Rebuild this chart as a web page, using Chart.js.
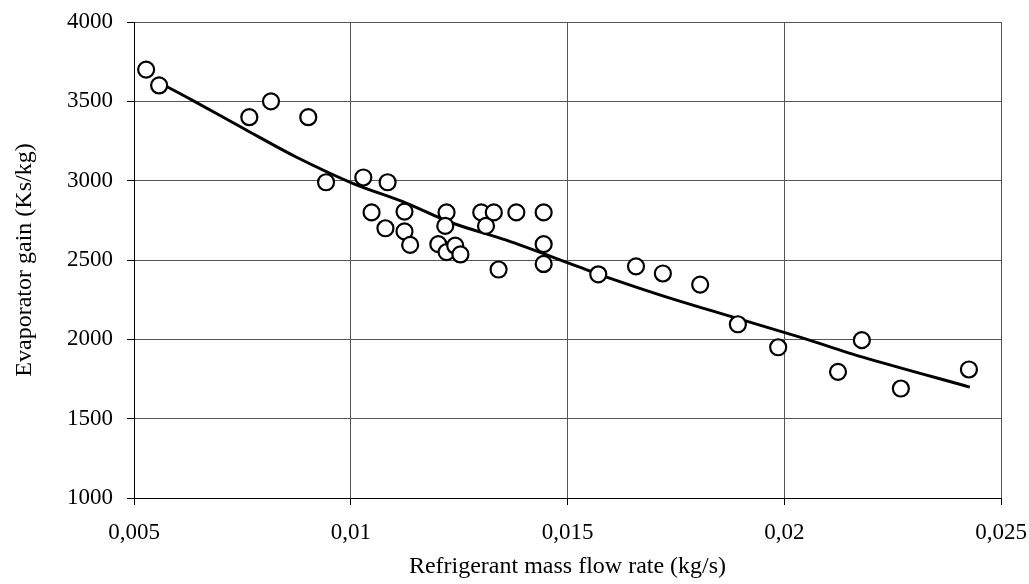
<!DOCTYPE html>
<html>
<head>
<meta charset="utf-8">
<script src="https://cdn.jsdelivr.net/npm/chart.js@4/dist/chart.umd.min.js"></script>
<style>
  html, body { margin: 0; padding: 0; background: #fff; }
  #wrap { width: 1029px; height: 584px; position: relative; }
</style>
</head>
<body>
<div id="wrap"><canvas id="c" width="1029" height="584"></canvas></div>
<script>
// Measured flow rates (kg/s) and evaporator gains (Ks/kg)
const flowRate = [
  0.00528, 0.00558, 0.00766, 0.00816, 0.00902, 0.00943, 0.01029, 0.01048,
  0.01085, 0.01080, 0.01124, 0.01124, 0.01137, 0.01221, 0.01218, 0.01202,
  0.01221, 0.01241, 0.01253, 0.01301, 0.01312, 0.01330, 0.01382, 0.01445,
  0.01445, 0.01445, 0.01341, 0.01571, 0.01658, 0.01720, 0.01806, 0.01893,
  0.01986, 0.02124, 0.02179, 0.02269, 0.02426
];
const evapGain = [
  3700, 3600, 3400, 3500, 3400, 2990, 3020, 2800,
  2990, 2700, 2805, 2680, 2595, 2800, 2715, 2600,
  2550, 2590, 2535, 2800, 2715, 2800, 2800, 2800,
  2600, 2475, 2440, 2410, 2460, 2415, 2345, 2095,
  1950, 1795, 1995, 1690, 1810
];

// Trend curve
const trendFlow = [
  0.00569, 0.00634, 0.00759, 0.00874, 0.01003, 0.01128, 0.01234, 0.01359,
  0.01528, 0.01597, 0.01729, 0.01828, 0.02036, 0.02181, 0.02428
];
const trendGain = [
  3603, 3508, 3319, 3149, 2985, 2859, 2733, 2625,
  2455, 2386, 2266, 2184, 2014, 1888, 1699
];

const xTickValues = [0.005, 0.01, 0.015, 0.02, 0.025];
const xTickLabels = ['0,005', '0,01', '0,015', '0,02', '0,025'];
const yTickValues = [1000, 1500, 2000, 2500, 3000, 3500, 4000];

const measured = flowRate.map((x, i) => ({ x: x, y: evapGain[i] }));
const trend = trendFlow.map((x, i) => ({ x: x, y: trendGain[i] }));

const serif = "'Liberation Serif', 'DejaVu Serif', serif";

new Chart(document.getElementById('c'), {
  type: 'scatter',
  data: {
    datasets: [
      {
        label: 'Trend',
        data: trend,
        showLine: true,
        borderColor: '#000',
        borderWidth: 3,
        pointRadius: 0,
        tension: 0.3,
        fill: false,
        order: 2
      },
      {
        label: 'Measured',
        data: measured,
        pointStyle: 'circle',
        pointRadius: 8,
        pointBorderWidth: 2.2,
        pointBorderColor: '#000',
        pointBackgroundColor: '#fff',
        order: 1
      }
    ]
  },
  options: {
    responsive: false,
    animation: false,
    devicePixelRatio: 1,
    layout: { padding: { left: 0, top: 22, right: 28, bottom: 0 } },
    plugins: {
      legend: { display: false },
      tooltip: { enabled: false }
    },
    scales: {
      x: {
        type: 'linear',
        min: 0.005,
        max: 0.025,
        afterBuildTicks: (axis) => { axis.ticks = xTickValues.map(v => ({ value: v })); },
        afterFit: (axis) => {
          axis.height = 86;
          axis.paddingLeft = 0;
          axis.paddingRight = 0;
        },
        ticks: {
          color: '#000',
          font: { family: serif, size: 23 },
          padding: 14,
          maxRotation: 0,
          callback: (v) => {
            const i = xTickValues.findIndex(t => Math.abs(t - v) < 1e-9);
            return i >= 0 ? xTickLabels[i] : '';
          }
        },
        grid: { color: '#555', lineWidth: 1, tickLength: 7, tickColor: '#000' },
        border: { color: '#000', width: 1 },
        title: {
          display: true,
          text: 'Refrigerant mass flow rate (kg/s)',
          color: '#000',
          font: { family: serif, size: 24 },
          padding: { top: 0, bottom: 3 }
        }
      },
      y: {
        type: 'linear',
        min: 1000,
        max: 4000,
        afterBuildTicks: (axis) => { axis.ticks = yTickValues.map(v => ({ value: v })); },
        afterFit: (axis) => {
          axis.width = 134;
          axis.paddingTop = 0;
          axis.paddingBottom = 0;
        },
        ticks: {
          color: '#000',
          font: { family: serif, size: 23 },
          padding: 14,
          callback: (v) => String(v)
        },
        grid: { color: '#555', lineWidth: 1, tickLength: 7, tickColor: '#000' },
        border: { color: '#000', width: 1 },
        title: {
          display: true,
          text: 'Evaporator gain (Ks/kg)',
          color: '#000',
          font: { family: serif, size: 24 },
          padding: { top: 10, bottom: 0 }
        }
      }
    }
  }
});
</script>
</body>
</html>
